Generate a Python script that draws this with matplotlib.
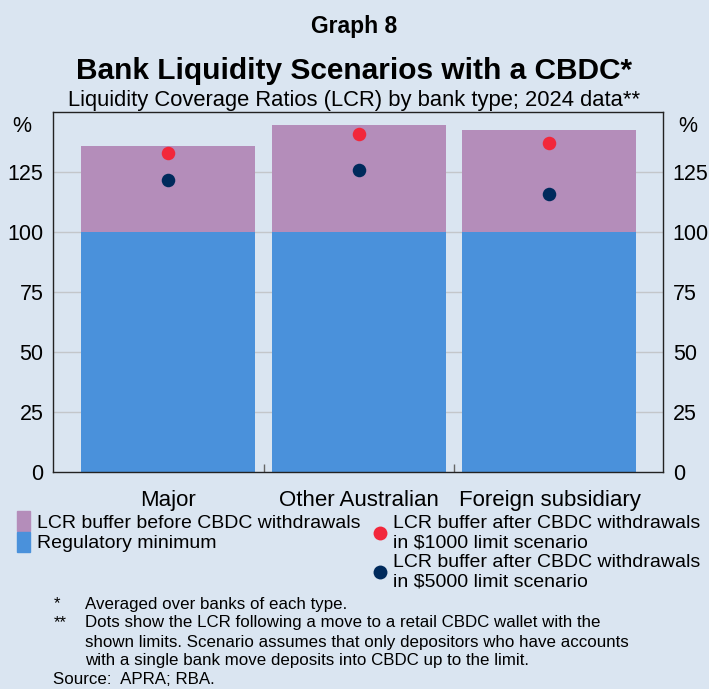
import numpy as np
import matplotlib.pyplot as plt
from matplotlib.lines import Line2D
from matplotlib.patches import Patch
from matplotlib.ticker import FixedLocator

plt.rcParams['font.family'] = ['Liberation Sans', 'DejaVu Sans']

# LCR by bank type, per cent (2024 data)
bank_types = ['Major', 'Other Australian', 'Foreign subsidiary']
regulatory_min = [100, 100, 100]
lcr_before = [135.8, 144.6, 142.5]
lcr_1000_limit = [133.0, 140.8, 137.1]
lcr_5000_limit = [121.6, 125.7, 115.8]
y_ticks = [0, 25, 50, 75, 100, 125]

BG = '#DAE5F1'
C_BUFFER = '#B48DBA'
C_MIN = '#4A91DB'
C_RED = '#F2273B'
C_NAVY = '#002A5C'
C_GRID = '#C3C6CA'

fig = plt.figure(figsize=(7.09, 6.89), dpi=100, facecolor=BG)
ax = fig.add_axes([53 / 709, 1 - 472 / 689, 610 / 709, 360 / 689])
ax.set_facecolor(BG)

x = np.arange(len(bank_types))
buffer = np.array(lcr_before) - np.array(regulatory_min)
ax.bar(x, regulatory_min, width=0.913, color=C_MIN, zorder=2)
ax.bar(x, buffer, bottom=regulatory_min, width=0.913, color=C_BUFFER, zorder=2)
ax.scatter(x, lcr_1000_limit, s=95, color=C_RED, zorder=3, linewidths=0)
ax.scatter(x, lcr_5000_limit, s=95, color=C_NAVY, zorder=3, linewidths=0)

ax.set_xlim(-0.606, 2.596)
ax.set_ylim(0, 150)
ax.set_yticks(y_ticks)
for y in y_ticks[1:]:
    ax.axhline(y, color=C_GRID, lw=1.0, zorder=1)

ax.tick_params(axis='y', length=0, pad=7, labelsize=15.5,
               labelleft=True, labelright=True)
ax.set_xticks(x)
ax.set_xticklabels(bank_types, fontsize=16)
ax.tick_params(axis='x', which='major', length=0, pad=13)
ax.xaxis.set_minor_locator(FixedLocator([0.5, 1.5]))
ax.tick_params(axis='x', which='minor', direction='in', length=6,
               width=1, color='#666666')
for sp in ax.spines.values():
    sp.set_color('#222222')
    sp.set_linewidth(1.0)
    sp.set_zorder(4)

for xa, ha in [(-0.035, 'right'), (1.025, 'left')]:
    ax.text(xa, 144, '%', transform=ax.get_yaxis_transform(),
            ha=ha, va='center', fontsize=15.5)

# titles
fig.text(0.5, 1 - 33 / 689, 'Graph 8', ha='center', va='baseline',
         fontsize=16.5, fontweight='bold')
fig.text(0.5, 1 - 79 / 689, 'Bank Liquidity Scenarios with a CBDC*',
         ha='center', va='baseline', fontsize=21.5, fontweight='bold')
fig.text(0.5, 1 - 106 / 689,
         'Liquidity Coverage Ratios (LCR) by bank type; 2024 data**',
         ha='center', va='baseline', fontsize=15.8)

# legends
left_handles = [Patch(color=C_BUFFER, label='LCR buffer before CBDC withdrawals'),
                Patch(color=C_MIN, label='Regulatory minimum')]
fig.legend(handles=left_handles, loc='upper left',
           bbox_to_anchor=(17 / 709, 1 - 511 / 689), frameon=False,
           fontsize=14.0, handlelength=0.67, handleheight=1.22,
           labelspacing=0, handletextpad=0.36, borderpad=0,
           borderaxespad=0)
right_handles = [
    Line2D([], [], ls='none', marker='o', ms=10, mec='none', color=C_RED,
           label='LCR buffer after CBDC withdrawals\nin $1000 limit scenario'),
    Line2D([], [], ls='none', marker='o', ms=10, mec='none', color=C_NAVY,
           label='LCR buffer after CBDC withdrawals\nin $5000 limit scenario'),
]
fig.legend(handles=right_handles, loc='upper left',
           bbox_to_anchor=(370 / 709, 1 - 515 / 689), frameon=False,
           fontsize=14.0, handlelength=1.0, labelspacing=0.12,
           handletextpad=0.2, borderpad=0, borderaxespad=0)

# notes
notes = [
    (604, '*', 'Averaged over banks of each type.'),
    (623, '**', 'Dots show the LCR following a move to a retail CBDC wallet with the'),
    (642, '', 'shown limits. Scenario assumes that only depositors who have accounts'),
    (661, '', 'with a single bank move deposits into CBDC up to the limit.'),
]
for yp, mark, txt in notes:
    fig.text(54 / 709, 1 - yp / 689, mark, ha='left', va='center', fontsize=12.2)
    fig.text(85 / 709, 1 - yp / 689, txt, ha='left', va='center', fontsize=12.2)
fig.text(53 / 709, 1 - 680 / 689, 'Source:  APRA; RBA.', ha='left',
         va='center', fontsize=12.2)

fig.savefig('out.png', dpi=100, facecolor=BG)
